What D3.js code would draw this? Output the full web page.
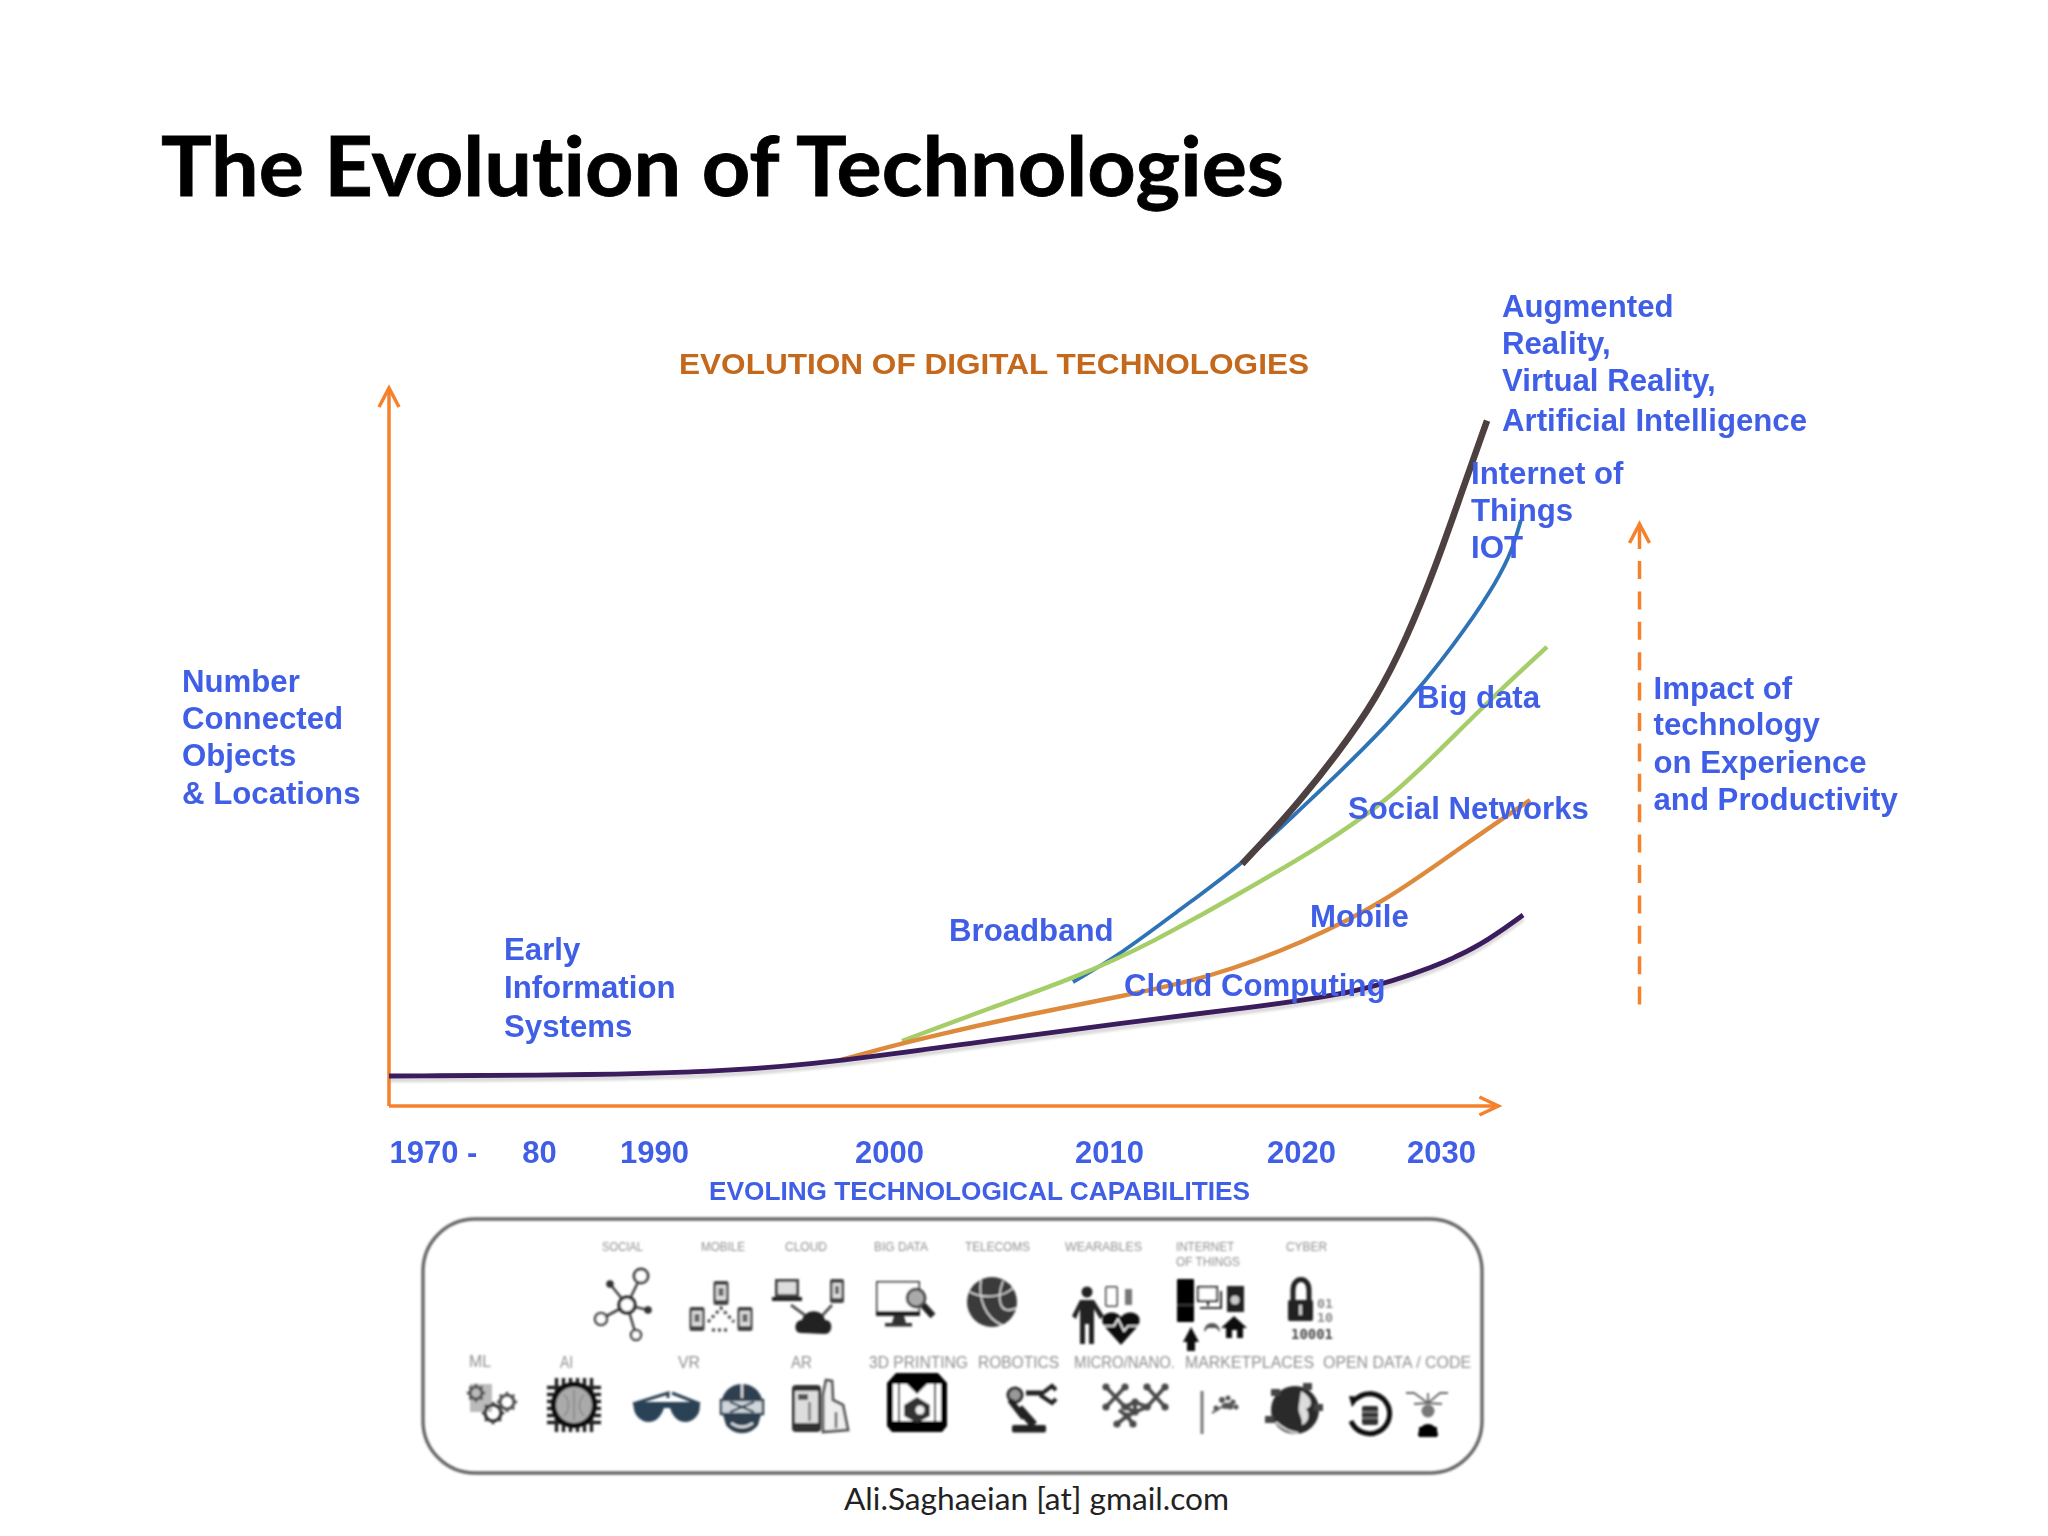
<!DOCTYPE html>
<html><head><meta charset="utf-8">
<style>html,body{margin:0;padding:0;background:#fff}svg{display:block}text{font-variant-ligatures:none}</style>
<script src="https://cdn.jsdelivr.net/npm/d3@7"></script></head>
<body><svg id="c" width="2048" height="1536"></svg>
<script>
const tickYears = [1970,1980,1990,2000,2010,2020,2030];
const tickLabels = ["1970 -","80","1990","2000","2010","2020","2030"];
const aiYears = [2016.93,2019.48,2022.71,2025.36,2027.5,2029.64,2031.43,2033.29];
const aiValues = [33.7,40.95,49.3,56.69,64.9,75.2,85.24,95.47];
const iotYears = [2008.36,2010.63,2013.8,2016.93,2019.48,2022.71,2026.21,2028.79,2031.86,2034,2035.07,2035.71];
const iotValues = [17.27,21.17,27.58,33.7,40.11,46.38,53.2,58.91,66.71,73.12,77.3,81.62];
const socialYears = [2000.59,2004.59,2008.45,2012.24,2016.93,2021,2026.21,2030.5,2034,2037.57];
const socialValues = [9.05,13.65,17.83,22.7,29.81,35.65,42.48,50.7,57.52,63.93];
const mobileYears = [1997.96,2000.59,2005.5,2010.73,2015.36,2020.14,2026.21,2031.43,2036.36];
const mobileValues = [6.41,8.77,12.26,15.32,17.97,22.7,28.69,36.07,42.62];
const earlyYears = [1970,1985.39,1993.28,1997.74,2004.73,2010.73,2017.55,2024.07,2029.71,2032.79,2035.86];
const earlyValues = [4.18,4.32,4.87,6.13,9.19,11.56,13.79,15.74,19.5,22.28,26.6];
const axisEndYear = 2034.1;
const iconRow1 = ["SOCIAL","MOBILE","CLOUD","BIG DATA","TELECOMS","WEARABLES","INTERNET","OF THINGS","CYBER"];
const iconRow2 = ["ML","AI","VR","AR","3D PRINTING","ROBOTICS","MICRO/NANO.","MARKETPLACES","OPEN DATA / CODE"];

const svg = d3.select("#c");
const defs = svg.append("defs");
defs.append("filter").attr("id","soft").attr("x","-5%").attr("y","-5%").attr("width","110%").attr("height","110%")
  .append("feGaussianBlur").attr("stdDeviation",0.75);
defs.append("filter").attr("id","softer").attr("x","-5%").attr("y","-5%").attr("width","110%").attr("height","110%")
  .append("feGaussianBlur").attr("stdDeviation",1.0);

const x = d3.scaleLinear().domain(tickYears).range([389,539,654,889,1109,1301,1441]);
const y = d3.scaleLinear().domain([0,100]).range([1106,388]);

const BLUE="#3f5fe6", ORANGE="#f5812c";
function txt(g,s,px,py,size,color,opts={}){
  const t=g.append("text").attr("x",px).attr("y",py).attr("font-size",size).attr("fill",color)
    .attr("font-family",opts.font||"'Liberation Sans',Arial,sans-serif")
    .attr("font-weight",opts.weight||700).text(s);
  if(opts.len) t.attr("textLength",opts.len).attr("lengthAdjust","spacingAndGlyphs");
  if(opts.anchor) t.attr("text-anchor",opts.anchor);
  return t;
}
svg.append("rect").attr("width",2048).attr("height",1536).attr("fill","#fff");
txt(svg,"The Evolution of Technologies",161,196,82,"#000",{font:"Lato",len:1123}).attr("stroke","#000").attr("stroke-width",0.8);
txt(svg,"Ali.Saghaeian [at] gmail.com",844,1510,31,"#222",{font:"Lato",weight:400,len:385});

const chart = svg.append("g").attr("filter","url(#soft)");
// axes
function arrow(g,x0,y0,dir,col,w){
  const p = dir==="up"?[[x0-10,y0+19],[x0,y0],[x0+10,y0+19]]:[[x0-19,y0-9],[x0,y0],[x0-19,y0+9]];
  g.append("path").attr("d",d3.line()(p)).attr("fill","none").attr("stroke",col).attr("stroke-width",w);
}
chart.append("line").attr("x1",x(1970)).attr("x2",x(1970)).attr("y1",y(0)).attr("y2",y(100)).attr("stroke",ORANGE).attr("stroke-width",3.5);
chart.append("line").attr("x1",x(1970)).attr("x2",x(axisEndYear)).attr("y1",y(0)).attr("y2",y(0)).attr("stroke",ORANGE).attr("stroke-width",3.5);
arrow(chart,x(1970),y(100),"up",ORANGE,3.5);
arrow(chart,x(axisEndYear),y(0),"right",ORANGE,3.5);
// x tick labels
const xa = d3.axisBottom(x).tickValues(tickYears).tickSize(0).tickFormat((d,i)=>tickLabels[i]);
const xg = chart.append("g").attr("transform",`translate(0,${y(0)})`).call(xa);
xg.select(".domain").remove();
xg.selectAll("text").attr("y",56.5).attr("dy",0).attr("font-size",31).attr("font-weight",700)
  .attr("font-family","'Liberation Sans',Arial,sans-serif").attr("fill",BLUE)
  .attr("text-anchor",(d,i)=>i===0?"start":"middle");

// curves
const line = d3.line().x(d=>x(d[0])).y(d=>y(d[1])).curve(d3.curveBasis);
const series = [
 [iotYears,iotValues,"#2f73b6",3.8],
 [socialYears,socialValues,"#a5cd68",4.4],
 [mobileYears,mobileValues,"#de8a3d",4.4],
 [aiYears,aiValues,"#4d3f3f",6.6],
 [earlyYears,earlyValues,"#3a1a5c",4.8]
];
chart.append("path").attr("d",line(d3.zip(earlyYears,earlyValues))).attr("fill","none").attr("stroke","#999").attr("stroke-width",5)
  .attr("opacity",.35).attr("transform","translate(0,4)").attr("filter","url(#softer)");
series.forEach(([ys,vs,c,w])=>{
  chart.append("path").attr("d",line(d3.zip(ys,vs))).attr("fill","none").attr("stroke",c).attr("stroke-width",w);
});

// dashed impact arrow
chart.append("line").attr("x1",1639.5).attr("x2",1639.5).attr("y1",561).attr("y2",1005).attr("stroke",ORANGE).attr("stroke-width",3.5).attr("stroke-dasharray","18 12.4");
chart.append("line").attr("x1",1639.5).attr("x2",1639.5).attr("y1",524).attr("y2",549).attr("stroke",ORANGE).attr("stroke-width",3.5);
arrow(chart,1639.5,524,"up",ORANGE,3.5);

// labels
const labels=[
 ["Augmented",1502,317],["Reality,",1502,354],["Virtual Reality,",1502,391],["Artificial Intelligence",1502,431],
 ["Internet of",1471,484],["Things",1471,521],["IOT",1471,558],
 ["Big data",1417,708],["Social Networks",1348,819],["Mobile",1310,927],["Cloud Computing",1124,996],["Broadband",949,940.5],
 ["Early",504,960],["Information",504,998],["Systems",504,1037],
 ["Number",182,692],["Connected",182,729],["Objects",182,766],["& Locations",182,804],
 ["Impact of",1653.5,698.5],["technology",1653.5,735],["on Experience",1653.5,772.5],["and Productivity",1653.5,810]
];
labels.forEach(([s,a,b])=>txt(chart,s,a,b,31.2,BLUE));
txt(chart,"EVOLUTION OF DIGITAL TECHNOLOGIES",679,373.5,30,"#c4691f",{len:630});
txt(chart,"EVOLING TECHNOLOGICAL CAPABILITIES",709,1200,26,BLUE,{len:541});

// capabilities box
const box = svg.append("g").attr("filter","url(#softer)");
box.append("rect").attr("x",423).attr("y",1219).attr("width",1059).attr("height",254).attr("rx",52).attr("ry",52)
  .attr("fill","none").attr("stroke","#666").attr("stroke-width",3.4);
const r1pos=[[602,41,1251],[701,44,1251],[785,42,1251],[874,54,1251],[965,65,1251],[1065,77,1251],[1176,58,1251],[1176,64,1266],[1286,41,1251]];
iconRow1.forEach((s,i)=>txt(box,s,r1pos[i][0],r1pos[i][2],12,"#8f8f8f",{weight:400,len:r1pos[i][1]}));
const r2pos=[[469,22,1367],[560,13,1368],[678,22,1368],[791,21,1368],[869,99,1368],[978,81,1368],[1074,101,1368],[1185,129,1368],[1323,148,1368]];
iconRow2.forEach((s,i)=>txt(box,s,r2pos[i][0],r2pos[i][2],16,"#8f8f8f",{weight:400,len:r2pos[i][1]}));

const I=box.append("g");
const circ=(cx,cy,r,fill,stroke,sw)=>I.append("circle").attr("cx",cx).attr("cy",cy).attr("r",r).attr("fill",fill||"none").attr("stroke",stroke||"none").attr("stroke-width",sw||0);
const rect=(rx,ry,w,h,fill,stroke,sw,rr)=>I.append("rect").attr("x",rx).attr("y",ry).attr("width",w).attr("height",h).attr("rx",rr||0).attr("fill",fill||"none").attr("stroke",stroke||"none").attr("stroke-width",sw||0);
const path=(d,fill,stroke,sw,extra)=>{const p=I.append("path").attr("d",d).attr("fill",fill||"none").attr("stroke",stroke||"none").attr("stroke-width",sw||0);if(extra)p.attr("stroke-dasharray",extra);return p;};
const phone=(cx,cy,w,h)=>{rect(cx-w/2,cy-h/2,w,h,"#444",null,0,2);rect(cx-w/2+2.5,cy-h/2+4,w-5,h-9,"#ddd");rect(cx-w/2+5,cy-h/2+7,w-10,h-16,"#666");};

// SOCIAL
path("M627 1305L641 1276M627 1305L610 1284M627 1305L648 1310M627 1305L601 1319M627 1305L636 1335",null,"#444",2.6);
circ(627,1305,8,"#fff","#333",3.6);circ(641,1276,7,"#fff","#444",3);circ(610,1284,3.8,"#333");circ(648,1310,3.8,"#333");circ(601,1319,6,"#fff","#444",2.6);circ(636,1335,5,"#fff","#444",2.6);
// MOBILE
phone(721,1293,15,24);phone(697,1319,15,24);phone(745,1319,15,24);
path("M708 1322L721 1308L734 1322M712 1330H730",null,"#444",3,"3 3");
// CLOUD
rect(775,1279,24,18,"#444");rect(778,1282,18,12,"#ddd");rect(772,1297,30,4,"#222");
phone(837,1291,14,24);
path("M791 1305L806 1316M832 1305L820 1318",null,"#555",2.8);
path("M801 1333C793 1333 794 1320 802 1320C805 1309 822 1308 825 1320C834 1320 833 1334 825 1334Z","#222");
// BIG DATA
rect(877,1282,42,32,"#fff","#444",2);rect(876,1311,44,5,"#222");path("M894 1316L892 1323H906L904 1316Z","#333");rect(885,1323,27,3.5,"#333");
circ(916,1298,9,"#aaa","#444",2.8);path("M923 1305L933 1316",null,"#222",6.5);
// TELECOMS
circ(992,1302,25,"#3a3a3a");path("M970 1292C985 1300 1005 1296 1013 1288M981 1280C978 1298 985 1318 1002 1325M1003 1281C996 1300 1000 1316 1016 1308",null,"#ddd",1.6);
// WEARABLES
circ(1087,1292,5.5,"#222");path("M1080 1300H1094L1104 1316L1100 1319L1094 1309V1344H1089V1324H1085V1344H1080V1309L1076 1319L1072 1316Z","#222");
rect(1106,1287,11,19,"#fff","#555",2,1);rect(1125,1289,7,16,"#777");
path("M1121 1345L1104 1326C1097 1313 1114 1308 1121 1317C1128 1308 1145 1313 1138 1326Z","#111");path("M1104 1326H1114L1118 1319L1124 1331L1128 1326H1138",null,"#fff",1.6);
// IOT
rect(1177,1279,17,43,"#000",null,0,1);path("M1177 1305H1194",null,"#666",1);
rect(1198,1287,19,14,"#fff","#333",2.2);path("M1208 1301V1306M1200 1308H1221V1291",null,"#333",2.2);
rect(1227,1286,17,26,"#222");circ(1235,1300,4.5,"#ccc");
path("M1204 1332C1204 1320 1220 1320 1220 1332L1216 1328H1208Z","#555");
path("M1234 1316L1221 1328H1226V1338H1232V1330H1237V1338H1243V1328H1247Z","#111");
path("M1191 1327L1183 1342H1187V1351H1195V1342H1199Z","#111");
// CYBER
path("M1293 1300V1290C1293 1276 1309 1276 1309 1290V1300",null,"#222",5);rect(1288,1300,25,21,"#222",null,0,2);rect(1299,1305,3,10,"#ccc");
txt(box,"01",1317,1308,12.5,"#888",{font:"'DejaVu Sans Mono'",len:16});
txt(box,"10",1317,1322,12.5,"#888",{font:"'DejaVu Sans Mono'",len:16});
txt(box,"10001",1291,1339,13.5,"#444",{font:"'DejaVu Sans Mono'",len:42});

// ML
rect(470,1384,22,28,"#bbb");
const gear=(cx,cy,r,col)=>{circ(cx,cy,r,"none",col,3.2);d3.range(8).forEach(k=>{const a=k*Math.PI/4;path(`M${cx+r*Math.cos(a)} ${cy+r*Math.sin(a)}L${cx+(r+3.2)*Math.cos(a)} ${cy+(r+3.2)*Math.sin(a)}`,null,col,2.6);});};
gear(476,1393,6,"#555");gear(493,1413,8,"#333");gear(507,1402,7,"#555");
// AI
d3.range(6).forEach(k=>{const o=-17.5+k*7;
  path(`M${574+o} 1378V1432M547 ${1405+o}H601`,null,"#222",3.5);});
circ(574,1405,23,"#111");circ(574,1405,18,"#aaa");path("M574 1390V1420M564 1395C570 1400 570 1410 564 1416M584 1395C578 1400 578 1410 584 1416",null,"#888",1.5);
// VR glasses
const NAVY="#2c4356";
path("M633 1404L668 1393L668 1398M700 1404L672 1393",null,NAVY,3);
path("M634 1402H699C702 1410 697 1421 686 1422C676 1422 672 1414 670 1408H664C662 1414 658 1422 648 1422C637 1421 632 1410 634 1402Z",NAVY);
// VR helmet
path("M721 1408C720 1376 764 1376 763 1408L758 1425C750 1436 734 1436 726 1425Z","#2e4050");
rect(721,1400,42,14,"#cfd6db","#2e4050",2.4);path("M730 1402L754 1412M754 1402L730 1412",null,"#2e4050",2.2);
path("M731 1423C738 1428 746 1428 753 1423",null,"#ddd",2.6);path("M742 1384V1398",null,"#ddd",2.4);
// AR
rect(792,1385,29,47,"#333",null,0,4);rect(795,1391,23,32,"#ddd");rect(798,1394,10,6,"#555");rect(808,1402,3,19,"#888");
path("M823 1432V1395L826 1380L832 1381L833 1400L843 1405L848 1430Z","#eee","#555",2.8);path("M836 1412V1428",null,"#555",2.4);
// 3D PRINTER
path("M896 1373H938L947 1383V1426L942 1432H892L887 1426V1383Z","#000");
rect(893,1381,48,40,"#fff");path("M893 1381H941V1384H893ZM907 1384H927L917 1394Z","#000");path("M899 1381V1421M935 1381V1421",null,"#000",2);
path("M917 1397L930 1405V1416L917 1423L904 1416V1405Z","#333");circ(920,1410,4.5,"#eee");
// ROBOTICS
circ(1015,1395,7,"#999","#333",3.2);path("M1019 1408L1034 1425",null,"#222",8);path("M1010 1400L1024 1418",null,"#222",6);rect(1012,1425,34,7.5,"#222",null,0,2);
path("M1026 1393H1042",null,"#222",5);path("M1040 1395L1052 1386L1056 1390M1040 1395L1052 1403L1056 1399",null,"#222",4);
// MICRO/NANO
path("M1106 1387L1125 1407M1125 1387L1106 1407M1147 1387L1165 1407M1165 1387L1147 1407M1125 1407L1135 1402L1147 1407L1135 1412ZM1135 1412L1127 1416M1117 1424L1127 1416L1133 1424M1119 1410L1127 1416M1135 1402L1135 1412",null,"#4a4a4a",3.8);
[[1106,1387],[1125,1387],[1106,1407],[1125,1407],[1147,1387],[1165,1387],[1165,1407],[1147,1407],[1135,1402],[1135,1412],[1117,1424],[1133,1424],[1127,1416]].forEach(p=>circ(p[0],p[1],3.6,"#4a4a4a"));
// MARKETPLACES
path("M1202 1391V1434",null,"#777",3);path("M1212 1413L1228 1403",null,"#777",2.5);
[[1222,1400,3],[1230,1406,3.5],[1216,1408,2.5],[1233,1402,2.5],[1225,1406,3],[1236,1407,2.5],[1228,1398,2.5]].forEach(p=>circ(p[0],p[1],p[2],"#555"));
// GLOBE
circ(1295,1410,24,"#2a2a2a");path("M1301 1391C1312 1397 1314 1406 1306 1409C1311 1415 1308 1423 1302 1425C1303 1417 1297 1413 1299 1405Z","#ddd");path("M1276 1422C1282 1428 1290 1432 1298 1433",null,"#ddd",2);
rect(1303,1383,9,7,"#444");rect(1271,1389,9,7,"#444");rect(1314,1404,9,7,"#444");rect(1265,1416,9,7,"#444");
// DATA RING
path("M1356 1399A20 20 0 1 1 1351 1421",null,"#111",5);path("M1349 1396L1360 1397L1352 1407Z","#111");
rect(1362,1406,16,19,"#333",null,0,2);path("M1362 1412H1378M1362 1418H1378",null,"#bbb",1.2);
// OPEN CODE
circ(1428,1411,6.5,"#777");path("M1418 1436C1418 1420 1438 1420 1438 1436Z","#000");rect(1419,1427,18,10,"#000");
path("M1428 1403V1393M1428 1403L1414 1393H1406M1428 1403L1440 1393H1448M1428 1403L1414 1404M1428 1403L1442 1404",null,"#666",1.8);
</script></body></html>
